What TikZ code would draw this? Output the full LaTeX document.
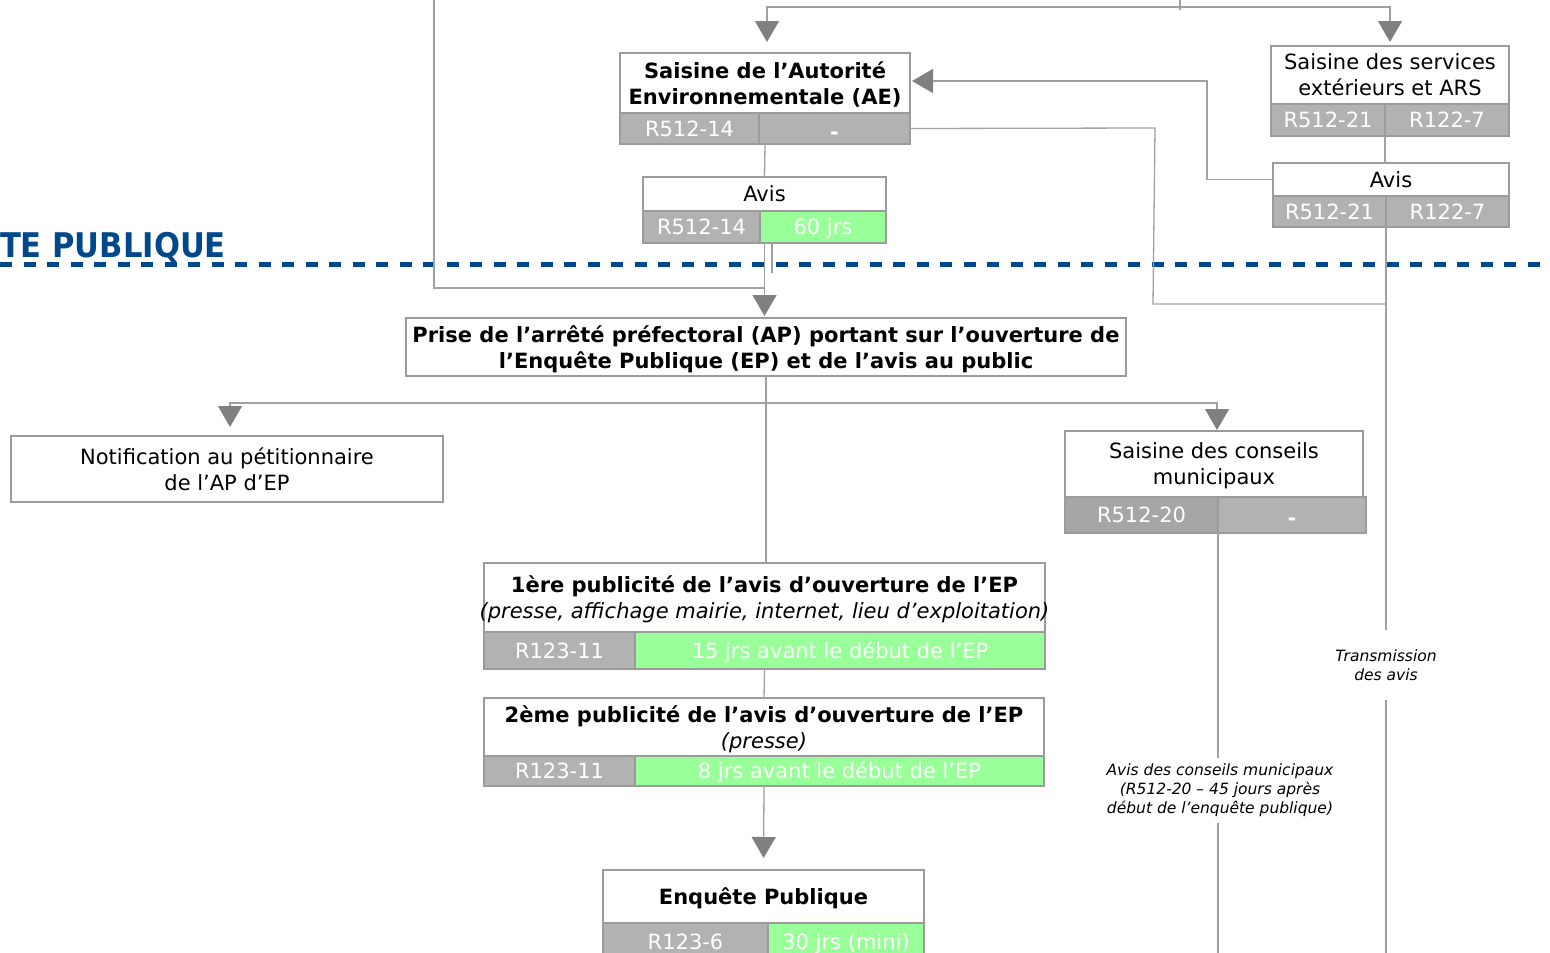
\documentclass[tikz,border=0pt]{standalone}
\usepackage{fontspec}
\setmainfont{DejaVu Sans}
\usetikzlibrary{arrows.meta}
\definecolor{bordc}{RGB}{155,155,155}
\definecolor{connc}{RGB}{160,160,160}
\definecolor{arrc}{RGB}{128,128,128}
\definecolor{cellc}{RGB}{178,178,178}
\definecolor{celldc}{RGB}{166,166,166}
\definecolor{greenc}{RGB}{153,255,153}
\definecolor{bluec}{RGB}{0,72,140}
\newcommand{\rbox}[7]{%
  \pgfmathsetmacro{\rbw}{#4-#2}%
  \pgfmathsetmacro{\rbh}{#5-#3}%
  \node[#6, minimum width=\rbw pt, minimum height=\rbh pt, anchor=north west] (#1) at (#2,#3) {#7};}
\newcommand{\dashmark}{\raisebox{-3pt}{\bfseries -}}
\begin{document}
\begin{tikzpicture}[x=1pt,y=-1pt,
  tbox/.style={draw=bordc, fill=white, line width=1.3pt, inner sep=0pt, outer sep=0pt, align=center, text depth=0pt, font=\fontsize{21}{26}\selectfont},
  cell/.style={tbox, text=white, text height=15.5pt, text depth=0pt},
  gcell/.style={cell, fill=cellc},
  dcell/.style={cell, fill=celldc},
  vcell/.style={cell, fill=greenc},
  conn/.style={draw=connc, line width=1.3pt},
  arr/.style={-{Triangle[width=24pt,length=21pt,color=arrc]}},
  note/.style={font=\fontsize{15.5}{19}\selectfont\itshape, align=center, inner sep=0pt, outer sep=0pt}]
\useasboundingbox (0,0) rectangle (1550,953);

% phase separator
\draw[bluec, line width=5pt, dash pattern=on 12pt off 11.5pt] (0,264) -- (1550,264);
\node[anchor=base east, inner sep=0pt, text=bluec, font=\fontsize{34}{40}\selectfont\bfseries] (phase) at (226,257) {\scalebox{0.9}[1]{TE PUBLIQUE}};

% boxes
\rbox{AE}{620}{53}{910}{113}{tbox}{\bfseries Saisine de l’Autorité\\\bfseries Environnementale (AE)}
\rbox{AEl}{620}{113}{759}{144}{gcell}{R512-14}
\rbox{AEr}{759}{113}{910}{144}{gcell}{\dashmark}

\rbox{AvisAE}{643}{177}{886}{211}{tbox}{Avis}
\rbox{AvisAEl}{643}{211}{760}{243}{gcell}{R512-14}
\rbox{AvisAEr}{760}{211}{886}{243}{vcell}{60 jrs}

\rbox{Serv}{1271}{46}{1509}{104}{tbox}{Saisine des services\\extérieurs et ARS}
\rbox{Servl}{1271}{104}{1385}{136}{gcell}{R512-21}
\rbox{Servr}{1385}{104}{1509}{136}{gcell}{R122-7}

\rbox{AvisS}{1273}{163}{1509}{196}{tbox}{Avis}
\rbox{AvisSl}{1273}{196}{1386}{227}{gcell}{R512-21}
\rbox{AvisSr}{1386}{196}{1509}{227}{gcell}{R122-7}

\rbox{Prise}{406}{318}{1126}{376}{tbox}{\bfseries Prise de l’arrêté préfectoral (AP) portant sur l’ouverture de\\\bfseries l’Enquête Publique (EP) et de l’avis au public}

\rbox{Notif}{11}{436}{443}{502}{tbox}{Notification au pétitionnaire\\de l’AP d’EP}

\rbox{Cons}{1065}{431}{1363}{497}{tbox}{Saisine des conseils\\municipaux}
\rbox{Consl}{1065}{497}{1218}{533}{dcell}{R512-20}
\rbox{Consr}{1218}{497}{1366}{533}{gcell}{\dashmark}

\rbox{Pub1}{484}{563}{1045}{632}{tbox}{\bfseries 1ère publicité de l’avis d’ouverture de l’EP\\\makebox[0pt]{\itshape (presse, affichage mairie, internet, lieu d’exploitation)}}
\rbox{Pub1l}{484}{632}{635}{669}{gcell}{R123-11}
\rbox{Pub1r}{635}{632}{1045}{669}{vcell}{15 jrs avant le début de l’EP}

\rbox{Pub2}{484}{698}{1044}{756}{tbox}{\bfseries 2ème publicité de l’avis d’ouverture de l’EP\\\itshape (presse)}
\rbox{Pub2l}{484}{756}{635}{786}{gcell}{R123-11}
\rbox{Pub2r}{635}{756}{1044}{786}{vcell}{8 jrs avant le début de l’EP}

\rbox{EP}{603}{870}{924}{923}{tbox}{\bfseries Enquête Publique}
\rbox{EPl}{603}{923}{768}{960}{gcell}{R123-6}
\rbox{EPr}{768}{923}{924}{960}{vcell}{30 jrs (mini)}

% notes
\node[note, minimum height=70pt] (trans) at (1386,665) {Transmission\\des avis};
\node[note, minimum height=65pt] (consnote) at (1220,790.5) {Avis des conseils municipaux\\(R512-20 – 45 jours après\\début de l’enquête publique)};

% free ends
\coordinate (topsrc) at (1180,0);
\coordinate (leftsrc) at (434,0);
\coordinate (joinP) at (764,288);
\coordinate (stubA) at (772,243);
\coordinate (stubB) at (772,273);
\coordinate (transJ) at (1386,304);
\coordinate (transEnd) at (1386,960);
\coordinate (consEnd) at (1218,960);

% connectors
\draw[conn] (topsrc) -- (1180,10);
\draw[conn, arr, shorten >=11pt] (1180,7) -| ([xshift=2pt]AE.north);
\draw[conn, arr, shorten >=4pt] (1180,7) -| (Serv.north);
\draw[conn] (AE.center |- AEl.south) -- (AvisAE.north);
\draw[conn, arr, shorten >=2pt] (AvisAE.center |- AvisAEl.south) -- (AvisAE.center |- Prise.north);
\draw[conn] (stubA) -- (stubB);
\draw[conn] (leftsrc) |- (joinP);
\draw[conn] (Servl.south east) -- (AvisS.north -| Servl.south east);
\draw[conn, arr, shorten >=2pt] (AvisS.west) -- (1207,179.5) |- ([yshift=2pt]AE.east);
\draw[conn] (AEr.east) -- (1155,128) -- (1153,304) -- (transJ);
\draw[conn] (AvisSl.south east) -- (trans.north);
\draw[conn] (trans.south) -- (transEnd);
\draw[conn] (Prise.south) -- (Prise.south |- Pub1.north);
\draw[conn, arr, shorten >=9pt] (Prise.south |- 0,403) -| ([xshift=3pt]Notif.north);
\draw[conn, arr, shorten >=1pt] (Prise.south |- 0,403) -| ([xshift=3pt]Cons.north);
\draw[conn] (Consl.south east) -- (consnote.north -| Consl.south east);
\draw[conn] (consnote.south -| Consl.south east) -- (consEnd);
\draw[conn] (Pub1.center |- Pub1l.south) -- (Pub2.north);
\draw[conn, arr, shorten >=12pt] (Pub2.center |- Pub2l.south) -- (EP.north);
\end{tikzpicture}
\end{document}
